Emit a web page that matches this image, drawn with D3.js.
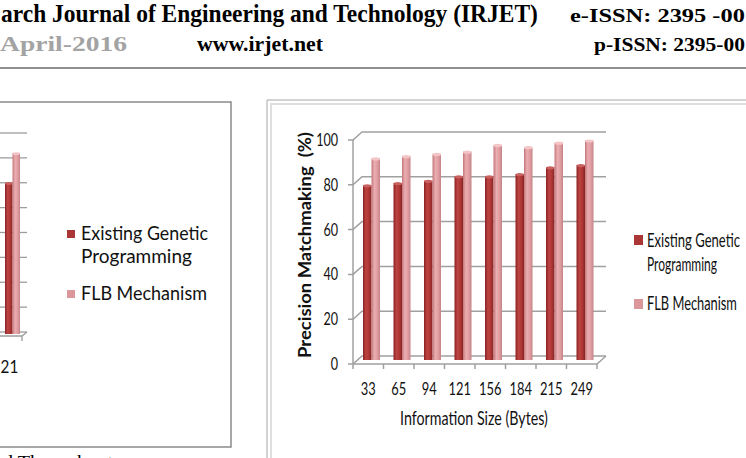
<!DOCTYPE html>
<html><head><meta charset="utf-8">
<script src="https://cdn.jsdelivr.net/npm/d3@7"></script>
<style>html,body{margin:0;padding:0;background:#fff;overflow:hidden}</style>
</head><body>
<svg id="c" width="746" height="458" xmlns="http://www.w3.org/2000/svg"></svg>
<script>
// ---- data (right chart: Precision Matchmaking) ----
const categories = ["33","65","94","121","156","184","215","249"];
const existingGP = [78,79,80,82,82,83,86,87];
const flbMechanism = [90,91,92,93,96,95,97,98];
const yTicks = [0,20,40,60,80,100];
const seriesNames = ["Existing Genetic", "Programming", "FLB Mechanism"];
const yTitle = "Precision Matchmaking  (%)";
const xTitle = "Information Size (Bytes)";

// ---- data (left chart, only its last category visible) ----
const leftCategories = ["121"];
const leftExistingGP = [607];
const leftFLB = [727];
const leftTicks = [0,100,200,300,400,500,600,700,800];

// ---- page texts (as visible in the cropped page) ----
const headerTitle = "arch Journal of Engineering and Technology (IRJET)";
const eissn = "e-ISSN: 2395 -00";
const pissn = "p-ISSN: 2395-00";
const dateText = "April-2016";
const site = "www.irjet.net";
const caption = "d Throughput";

const svg = d3.select("#c");
const SANS = "Lato, 'Open Sans', sans-serif";
const SERIF = "'Liberation Serif', 'DejaVu Serif', serif";

function txt(parent, s, x, y, o) {
  o = o || {};
  const t = parent.append("text").text(s)
    .style("font-family", o.family || SANS)
    .style("font-size", (o.size || 14) + "px")
    .style("font-weight", o.weight || "normal")
    .style("white-space", "pre")
    .attr("fill", o.fill || "#000")
    .attr("text-anchor", o.anchor || "start")
    .attr("transform", `translate(${x},${y})`);
  let sx = o.sx || 1;
  if (o.width) sx = o.width / t.node().getComputedTextLength();
  t.attr("transform", `translate(${x},${y}) rotate(${o.rot || 0}) scale(${sx},1)`);
  return t;
}

// gradients
const defs = svg.append("defs");
function grad(id, stops) {
  const g = defs.append("linearGradient").attr("id", id).attr("x1", 0).attr("x2", 1).attr("y1", 0).attr("y2", 0);
  stops.forEach(([o, c]) => g.append("stop").attr("offset", o).attr("stop-color", c));
}
grad("gDark", [[0, "#8a2222"], [0.35, "#bc4442"], [0.7, "#ad3635"], [1, "#862424"]]);
grad("gLight", [[0, "#c4767b"], [0.35, "#ebaeb1"], [0.7, "#df9ca0"], [1, "#c58388"]]);
const capCol = ["#c96160", "#f3c5c7"];
const fills = ["url(#gDark)", "url(#gLight)"];
const legendCol = ["#ab3636", "#dc979b"];

// ---- header ----
txt(svg, headerTitle, 1, 22, {family: SERIF, size: 26, weight: "bold", width: 537});
txt(svg, eissn, 570, 22, {family: SERIF, size: 19, weight: "bold", width: 175});
txt(svg, dateText, 0, 51, {family: SERIF, size: 21, weight: "bold", width: 127, fill: "#a3a3a3"});
txt(svg, site, 197, 51, {family: SERIF, size: 21, weight: "bold", width: 126});
txt(svg, pissn, 594, 51, {family: SERIF, size: 19, weight: "bold", width: 151});
svg.append("line").attr("x1", 0).attr("x2", 746).attr("y1", 68).attr("y2", 68)
  .attr("stroke", "#909090").attr("stroke-width", 2);

// ---- left chart (partial) ----
const L = svg.append("g");
L.append("path").attr("d", "M-5,102 H231 V447 H-5").attr("fill", "none")
  .attr("stroke", "#8a8a8a").attr("stroke-width", 1.5);
const yL = d3.scaleLinear().domain([0, 800]).range([336, 137]);
const xL = d3.scaleBand().domain(leftCategories).range([-8, 22]);
const x1L = d3.scaleBand().domain([0, 1]).range([10.5, 25.5]);
const LDX = 5, LDY = -4;
leftTicks.forEach(t => {
  L.append("line").attr("x1", 0).attr("x2", 27).attr("y1", yL(t) + LDY).attr("y2", yL(t) + LDY)
    .attr("stroke", "#9d9d9d").attr("stroke-width", 1.3);
});
L.append("path").attr("d", `M0,${yL(0)} H22 L27,${yL(0) + LDY} M22,${yL(0)} V${yL(0) + 5}`)
  .attr("fill", "none").attr("stroke", "#9d9d9d").attr("stroke-width", 1.3);
[leftExistingGP, leftFLB].forEach((vals, i) => {
  leftCategories.forEach((c, j) => {
    const bx = xL(c) + LDX / 2 + x1L(i), w = x1L.bandwidth();
    const top = yL(vals[j]) + LDY / 2;
    L.append("rect").attr("x", bx).attr("y", top).attr("width", w)
      .attr("height", yL(0) - yL(vals[j])).attr("fill", fills[i]);
    L.append("ellipse").attr("cx", bx + w / 2).attr("cy", top + 0.5).attr("rx", w / 2).attr("ry", 1.4)
      .attr("fill", capCol[i]);
  });
});
leftCategories.forEach(c => txt(L, c, xL(c) + 13, 373, {size: 18, anchor: "middle", sx: 0.85, fill: "#111"}));
L.append("rect").attr("x", 67).attr("y", 230).attr("width", 8).attr("height", 8).attr("fill", legendCol[0]);
L.append("rect").attr("x", 67).attr("y", 290).attr("width", 8).attr("height", 8).attr("fill", legendCol[1]);
txt(L, seriesNames[0], 81, 240, {size: 18.5, width: 127, fill: "#111"});
txt(L, seriesNames[1], 81, 263, {size: 18.5, width: 111, fill: "#111"});
txt(L, seriesNames[2], 81, 300, {size: 18.5, width: 126, fill: "#111"});
txt(svg, caption, 3, 467, {family: SERIF, size: 17, width: 110});

// ---- right chart ----
const R = svg.append("g");
R.append("path").attr("d", "M267,470 V100 H760").attr("fill", "none").attr("stroke", "#a5a5a5").attr("stroke-width", 1);
R.append("path").attr("d", "M271,470 V104 H760").attr("fill", "none").attr("stroke", "#dedede").attr("stroke-width", 2);

const x = d3.scaleBand().domain(categories).range([353, 597]);
const x1 = d3.scaleBand().domain([0, 1]).range([5.5, 22.5]);
const y = d3.scaleLinear().domain([0, 100]).range([364, 140]);
const DX = 9, DY = -8;
const x0 = x.range()[0], xEnd = x.range()[1];
const gridCol = "#a0a0a0";

yTicks.forEach(t => {
  const yy = y(t);
  R.append("path").attr("d", `M${x0 - 5},${yy} H${x0} L${x0 + DX},${yy + DY} H${xEnd + DX}`)
    .attr("fill", "none").attr("stroke", gridCol).attr("stroke-width", 1.5);
});
R.append("line").attr("x1", x0).attr("x2", x0).attr("y1", y(0)).attr("y2", y(100))
  .attr("stroke", gridCol).attr("stroke-width", 1.5);
R.append("path").attr("d", `M${x0},${y(0)} H${xEnd} L${xEnd + DX},${y(0) + DY}`)
  .attr("fill", "none").attr("stroke", gridCol).attr("stroke-width", 1.5);
const bounds = categories.map(c => x(c)).concat([xEnd]);
bounds.forEach(b => R.append("line").attr("x1", b).attr("x2", b).attr("y1", y(0)).attr("y2", y(0) + 5)
  .attr("stroke", gridCol).attr("stroke-width", 1.5));

[existingGP, flbMechanism].forEach((vals, i) => {
  categories.forEach((c, j) => {
    const bx = x(c) + DX / 2 + x1(i), w = x1.bandwidth();
    const top = y(vals[j]) + DY / 2;
    R.append("rect").attr("x", bx).attr("y", top).attr("width", w)
      .attr("height", y(0) - y(vals[j])).attr("fill", fills[i]);
    R.append("ellipse").attr("cx", bx + w / 2).attr("cy", top + 0.5).attr("rx", w / 2).attr("ry", 1.6)
      .attr("fill", capCol[i]);
  });
});

yTicks.forEach(t => txt(R, String(t), 338, y(t) + 6, {size: 17, anchor: "end", sx: 0.74, fill: "#111"}));
categories.forEach(c => txt(R, c, x(c) + x.bandwidth() / 2, 395, {size: 17, anchor: "middle", sx: 0.76, fill: "#111"}));
txt(R, xTitle, 474, 425, {size: 18.5, anchor: "middle", width: 148, fill: "#111"});
txt(R, yTitle, 311, 245, {size: 17, weight: "bold", anchor: "middle", width: 226, rot: -90, fill: "#111"});

R.append("rect").attr("x", 634).attr("y", 235).attr("width", 9).attr("height", 10).attr("fill", legendCol[0]);
R.append("rect").attr("x", 634).attr("y", 299).attr("width", 9).attr("height", 10).attr("fill", legendCol[1]);
txt(R, seriesNames[0], 647, 247, {size: 18.5, width: 93, fill: "#111"});
txt(R, seriesNames[1], 647, 271, {size: 18.5, width: 70, fill: "#111"});
txt(R, seriesNames[2], 647, 310, {size: 18.5, width: 90, fill: "#111"});
</script>
</body></html>
